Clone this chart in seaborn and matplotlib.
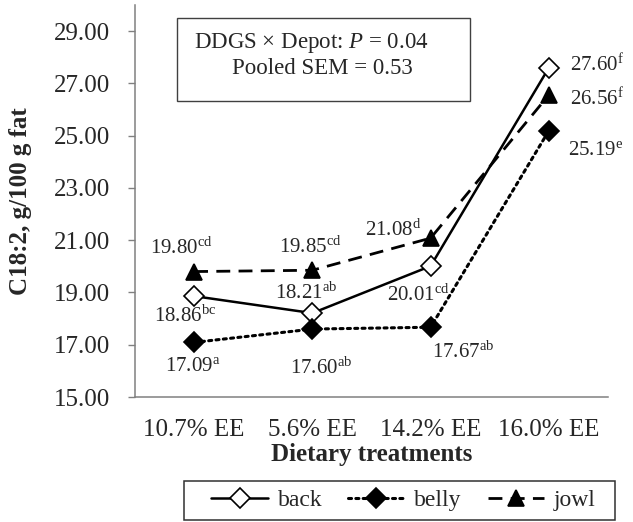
import pandas as pd
import matplotlib
matplotlib.use('Agg')
import matplotlib.pyplot as plt
from matplotlib.patches import Rectangle
from matplotlib.ticker import FixedLocator, FormatStrFormatter
import seaborn as sns

treatments = ['10.7% EE', '5.6% EE', '14.2% EE', '16.0% EE']
back = [18.86, 18.21, 20.01, 27.60]
belly = [17.09, 17.60, 17.67, 25.19]
jowl = [19.80, 19.85, 21.08, 26.56]
back_letters = ['bc', 'ab', 'cd', 'f']
belly_letters = ['a', 'ab', 'ab', 'e']
jowl_letters = ['cd', 'cd', 'd', 'f']
y_ticks = [15, 17, 19, 21, 23, 25, 27, 29]

sns.set_theme(style='white')
plt.rcParams['font.family'] = ['Liberation Serif', 'DejaVu Serif']
plt.rcParams['mathtext.fontset'] = 'custom'
plt.rcParams['mathtext.rm'] = 'Liberation Serif'
plt.rcParams['mathtext.it'] = 'Liberation Serif:italic'
plt.rcParams['mathtext.bf'] = 'Liberation Serif:bold'

df = pd.DataFrame({
    'treatment': treatments * 3,
    'value': back + belly + jowl,
    'depot': ['back'] * 4 + ['belly'] * 4 + ['jowl'] * 4,
})

fig = plt.figure(figsize=(6.33, 5.22), dpi=100)
ax = fig.add_axes([135 / 633, 1 - 397 / 522, 473 / 633, 392 / 522])

# line styles per depot
styles = {
    'back': dict(marker='D', markersize=10, markerfacecolor='white', linestyle='-', linewidth=1.8),
    'belly': dict(marker='D', markersize=10, markerfacecolor='black', linestyle=(0, (1, 1.4)),
                  linewidth=2.2, dash_capstyle='round'),
    'jowl': dict(marker='^', markersize=11, markerfacecolor='black', linestyle=(0, (5, 3)), linewidth=2.0),
}
for depot, kw in styles.items():
    sns.lineplot(data=df[df['depot'] == depot], x='treatment', y='value', ax=ax,
                 color='black', markeredgecolor='black', markeredgewidth=1.2,
                 sort=False, label=depot, **kw)

ax.set_ylim(15, 30)
ax.set_xlim(-0.5, 3.5)
ax.yaxis.set_major_locator(FixedLocator(y_ticks))
ax.yaxis.set_major_formatter(FormatStrFormatter('%.2f'))
ax.xaxis.set_major_locator(FixedLocator([-0.5, 0.5, 1.5, 2.5, 3.5]))
ax.xaxis.set_major_formatter(plt.NullFormatter())
ax.xaxis.set_minor_locator(FixedLocator([0, 1, 2, 3]))
ax.set_xticklabels(treatments, minor=True)
ax.tick_params(axis='x', which='major', length=5, width=1, color='#808080', direction='out')
ax.tick_params(axis='x', which='minor', length=0, pad=16, labelsize=18)
ax.tick_params(axis='y', which='major', length=5, width=1, color='#808080', direction='out',
               pad=13, labelsize=18, left=True)
for side in ['top', 'right']:
    ax.spines[side].set_visible(False)
for side in ['left', 'bottom']:
    ax.spines[side].set_color('#808080')
    ax.spines[side].set_linewidth(1.1)

ax.set_xlabel('Dietary treatments', fontsize=18, fontweight='bold')
ax.set_ylabel('C18:2, g/100 g fat', fontsize=18, fontweight='bold')
ax.xaxis.set_label_coords(0.5, -0.117)
ax.yaxis.set_label_coords(-0.218, 0.5)

# value labels with significance letters
offsets = {
    'back': [(-9, -20, 'center'), (-6, 20, 'center'), (19, -29, 'right'), (21, 2, 'left')],
    'belly': [(-1, -24, 'center'), (9, -39, 'center'), (1, -25, 'left'), (19, -20, 'left')],
    'jowl': [(-13, 23, 'center'), (-2, 23, 'center'), (-9, 8, 'right'), (21, -5, 'left')],
}
series = {'back': (back, back_letters), 'belly': (belly, belly_letters), 'jowl': (jowl, jowl_letters)}
for depot, (vals, letters) in series.items():
    for i, (v, l) in enumerate(zip(vals, letters)):
        dx, dy, ha = offsets[depot][i]
        ax.annotate(f'{v:.2f}' + r'$^{\mathrm{' + l + '}}$', xy=(i, v), xytext=(dx, dy),
                    textcoords='offset pixels', ha=ha, va='center', fontsize=15)

# stats box
fig.add_artist(Rectangle((177 / 633, 1 - 101 / 522), 293 / 633, 83 / 522, transform=fig.transFigure,
                         facecolor='white', edgecolor='#404040', linewidth=1.0))
fig.text(311 / 633, 1 - 43 / 522, r'DDGS × Depot: $P$ = 0.04', ha='center', va='center', fontsize=16.5)
fig.text(322 / 633, 1 - 68 / 522, 'Pooled SEM = 0.53', ha='center', va='center', fontsize=16.5)

# legend box drawn separately, legend itself frameless
fig.add_artist(Rectangle((184 / 633, 1 - 520 / 522), 431 / 633, 39 / 522, transform=fig.transFigure,
                         facecolor='white', edgecolor='#303030', linewidth=1.1))
handles, labels = ax.get_legend_handles_labels()
ax.get_legend().remove()
fig.legend(handles, labels, loc='center', bbox_to_anchor=(403.5 / 633, 1 - 500.5 / 522),
           ncol=3, frameon=False, fontsize=17, handlelength=2.4,
           columnspacing=1.1, handletextpad=0.4, borderpad=0.2)

fig.savefig('out.png', dpi=100)
